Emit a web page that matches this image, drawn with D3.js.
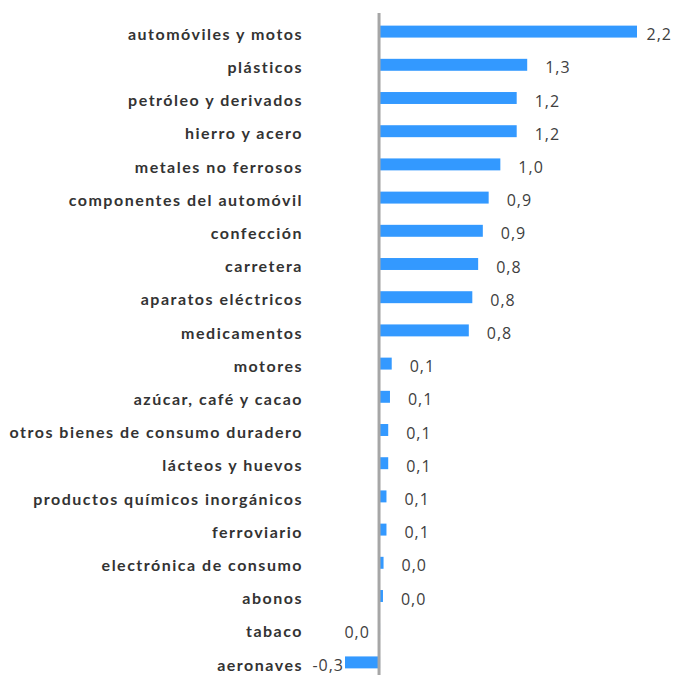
<!DOCTYPE html>
<html>
<head>
<meta charset="utf-8">
<script src="https://cdn.jsdelivr.net/npm/d3@7"></script>
<style>
  body { margin: 0; background: #fff; }
  #chart-container { width: 676px; height: 675px; }
</style>
</head>
<body>
<div id="chart-container"></div>
<script>
const chartContainer = document.getElementById("chart-container");

const categories = [
  "automóviles y motos",
  "plásticos",
  "petróleo y derivados",
  "hierro y acero",
  "metales no ferrosos",
  "componentes del automóvil",
  "confección",
  "carretera",
  "aparatos eléctricos",
  "medicamentos",
  "motores",
  "azúcar, café y cacao",
  "otros bienes de consumo duradero",
  "lácteos y huevos",
  "productos químicos inorgánicos",
  "ferroviario",
  "electrónica de consumo",
  "abonos",
  "tabaco",
  "aeronaves",
];
const values = [
  2.2, 1.26, 1.17, 1.17, 1.03, 0.93, 0.88, 0.84, 0.79, 0.76,
  0.1, 0.085, 0.07, 0.07, 0.055, 0.055, 0.03, 0.025, -0.01, -0.3,
];
const valueLabels = [
  "2,2", "1,3", "1,2", "1,2", "1,0", "0,9", "0,9", "0,8", "0,8", "0,8",
  "0,1", "0,1", "0,1", "0,1", "0,1", "0,1", "0,0", "0,0", "0,0", "-0,3",
];

const data = categories.map((c, i) => ({ name: c, value: values[i], label: valueLabels[i] }));

const width = 676;
const height = 675;

const svg = d3
  .select(chartContainer)
  .append("svg")
  .attr("width", width)
  .attr("height", height);

// zero sits on the grey axis at ~380, 2.2 reaches ~637
const x = d3.scaleLinear().domain([-0.3, 2.2]).range([345, 637]);

const y = d3
  .scaleBand()
  .domain(categories)
  .range([15, 679])
  .paddingInner(0.64)
  .paddingOuter(0.32);

svg
  .selectAll("rect.bar")
  .data(data)
  .enter()
  .append("rect")
  .attr("class", "bar")
  .attr("fill", "#3399ff")
  .attr("x", (d) => Math.min(x(0), x(d.value)))
  .attr("width", (d) => Math.abs(x(d.value) - x(0)))
  .attr("y", (d) => y(d.name))
  .attr("height", y.bandwidth());

// vertical axis line
svg
  .append("line")
  .attr("x1", x(0) - 1)
  .attr("x2", x(0) - 1)
  .attr("y1", 13)
  .attr("y2", height)
  .attr("stroke", "#a6a6a6")
  .attr("stroke-width", 3);

// category labels
const yAxis = d3.axisLeft(y).tickSize(0).tickPadding(0);
const gYAxis = svg.append("g").attr("transform", "translate(303,3)").call(yAxis);
gYAxis.select(".domain").remove();
gYAxis
  .selectAll("text")
  .style("font-family", "Lato, 'Open Sans', sans-serif")
  .style("font-weight", "bold")
  .style("font-size", "16px")
  .style("letter-spacing", "1.5px")
  .style("fill", "#333333");

// value labels
const labels = svg
  .selectAll("text.val")
  .data(data)
  .enter()
  .append("text")
  .attr("class", "val")
  .attr("y", (d) => y(d.name) + y.bandwidth() / 2 + 3)
  .attr("dy", "0.35em")
  .style("font-family", "'Open Sans', sans-serif")
  .style("font-size", "16px")
  .style("letter-spacing", "1px")
  .style("fill", "#404040")
  .text((d) => d.label);

labels.each(function (d) {
  const t = d3.select(this);
  const w = this.getComputedTextLength();
  if (d.value >= 0) {
    let sx = x(d.value) + 18;
    if (sx + w > width - 4) sx = width - 4 - w;
    t.attr("x", sx).attr("text-anchor", "start");
  } else {
    let ex = x(d.value) - 9;
    if (ex - w < 311) ex = x(d.value) - 1;
    t.attr("x", ex).attr("text-anchor", "end");
  }
});
</script>
</body>
</html>
